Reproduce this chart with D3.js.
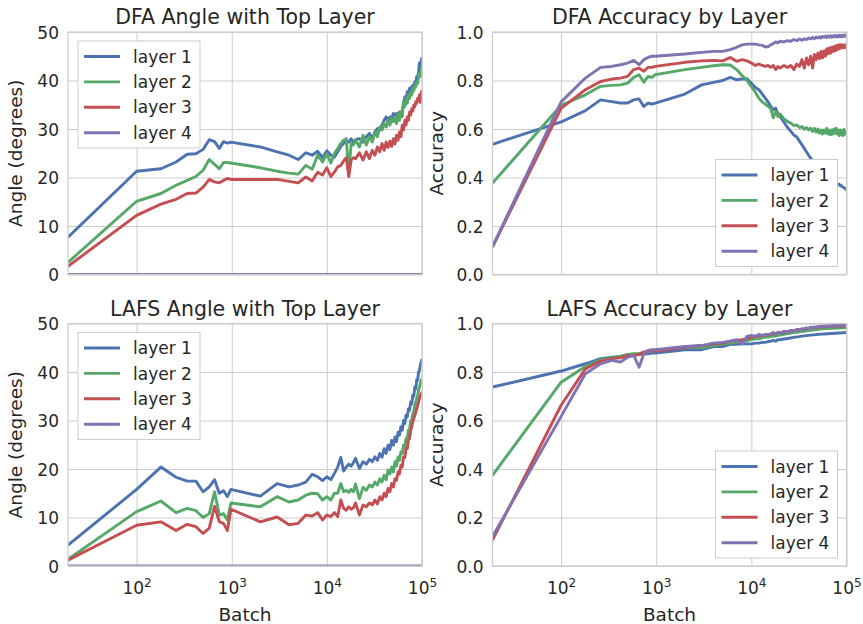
<!DOCTYPE html>
<meta charset="utf-8">
<style>
  body { margin: 0; background: #fff; }
  svg text { font-family: 'DejaVu Sans', sans-serif; fill: #262626; }
</style>
<body>
<div id="vis"></div>
<script src="https://cdn.jsdelivr.net/npm/d3@7"></script>
<script>

const width = 863,
    height = 624;

// logged batches (shared by every run)
const batch = [19, 100, 180, 260, 340, 420, 500, 580, 660, 740, 820, 900, 980,
  2000, 3000, 4000, 5000, 6000, 7000, 8000, 9000, 10000,
  11000, 12000, 13000, 14000, 15000, 16000, 17000, 18000, 19000, 20000,
  22000, 24000, 26000, 28000, 30000, 32000, 34000, 36000, 38000, 40000,
  42000, 44000, 46000, 48000, 50000, 52000, 54000, 56000, 58000, 60000,
  62000, 64000, 66000, 68000, 70000, 72000, 74000, 76000, 78000, 80000,
  82000, 84000, 86000, 88000, 90000, 92000, 94000, 96000, 98000, 100000];

const dfaAngle1 = [7.7, 21.3, 21.8, 23.2, 24.8, 24.9, 25.8, 27.8, 27.4, 26.0, 27.4, 27.1, 27.3,
  26.3, 25.3, 24.6, 23.7, 25.1, 24.6, 25.4, 24.1, 25.5,
  24.6, 24.2, 25.3, 26.4, 27.0, 27.5, 27.3, 28.0, 27.3, 27.8,
  28.0, 27.3, 28.4, 29.1, 28.0, 29.4, 30.1, 29.8, 30.8, 31.8,
  32.5, 31.5, 32.5, 32.2, 33.2, 32.2, 33.2, 32.5, 33.5, 32.9,
  33.9, 35.3, 36.6, 35.9, 37.7, 37.0, 38.4, 37.7, 38.7, 39.0,
  38.7, 39.7, 39.4, 40.8, 40.4, 41.8, 43.6, 42.5, 44.0, 44.8];
const dfaAngle2 = [2.5, 15.1, 16.7, 18.4, 19.4, 20.2, 21.5, 23.7, 22.7, 21.8, 23.1, 23.1, 23.0,
  22.0, 21.3, 20.9, 20.7, 22.5, 21.7, 24.6, 23.2, 24.9,
  23.0, 24.9, 26.0, 27.0, 27.7, 28.0, 20.8, 27.0, 26.7, 27.7,
  26.3, 28.7, 26.7, 28.4, 27.3, 29.4, 28.4, 30.4, 29.8, 31.1,
  30.4, 31.8, 30.8, 32.2, 31.5, 32.5, 31.1, 33.2, 31.8, 33.5,
  32.5, 35.6, 34.6, 36.3, 35.3, 37.0, 36.3, 37.7, 37.0, 38.4,
  37.9, 39.0, 38.7, 39.7, 39.4, 40.8, 41.5, 40.8, 42.0, 43.0];
const dfaAngle3 = [1.7, 12.2, 14.5, 15.5, 16.7, 16.8, 18.0, 19.6, 19.1, 18.9, 19.4, 19.8, 19.6,
  19.6, 19.6, 19.2, 18.9, 20.1, 19.3, 21.1, 20.5, 22.0,
  20.2, 21.1, 22.2, 22.5, 23.4, 24.1, 20.2, 23.6, 24.1, 23.9,
  25.1, 23.6, 25.3, 23.9, 25.6, 24.6, 26.3, 25.3, 27.0, 25.6,
  27.3, 26.2, 27.5, 26.4, 28.0, 26.9, 28.7, 27.7, 29.4, 28.4,
  30.8, 29.8, 31.8, 30.8, 32.5, 31.8, 33.5, 32.9, 34.2, 33.7,
  34.9, 34.6, 35.6, 35.3, 36.3, 35.9, 37.0, 35.5, 37.5, 38.0];
const dfaAngle4 = [0, 0, 0, 0, 0, 0, 0, 0, 0, 0, 0, 0, 0,
  0, 0, 0, 0, 0, 0, 0, 0, 0,
  0, 0, 0, 0, 0, 0, 0, 0, 0, 0,
  0, 0, 0, 0, 0, 0, 0, 0, 0, 0,
  0, 0, 0, 0, 0, 0, 0, 0, 0, 0,
  0, 0, 0, 0, 0, 0, 0, 0, 0, 0,
  0, 0, 0, 0, 0, 0, 0, 0, 0, 0];

const dfaAcc1 = [0.537, 0.629, 0.676, 0.720, 0.713, 0.707, 0.707, 0.720, 0.724, 0.693, 0.707, 0.703, 0.707,
  0.744, 0.782, 0.792, 0.800, 0.813, 0.803, 0.806, 0.807, 0.789,
  0.771, 0.762, 0.744, 0.727, 0.711, 0.693, 0.679, 0.686, 0.661, 0.652,
  0.628, 0.606, 0.590, 0.575, 0.567, 0.550, 0.535, 0.520, 0.505, 0.492,
  0.480, 0.468, 0.458, 0.450, 0.443, 0.435, 0.428, 0.421, 0.415, 0.410,
  0.404, 0.398, 0.393, 0.390, 0.386, 0.383, 0.380, 0.378, 0.376, 0.374,
  0.372, 0.372, 0.366, 0.367, 0.362, 0.360, 0.358, 0.355, 0.352, 0.350];
const dfaAcc2 = [0.377, 0.698, 0.741, 0.776, 0.780, 0.782, 0.789, 0.813, 0.824, 0.793, 0.817, 0.813, 0.824,
  0.845, 0.854, 0.861, 0.865, 0.864, 0.845, 0.820, 0.800, 0.775,
  0.752, 0.727, 0.712, 0.703, 0.693, 0.684, 0.646, 0.672, 0.652, 0.662,
  0.642, 0.631, 0.624, 0.614, 0.617, 0.606, 0.610, 0.599, 0.606, 0.596,
  0.603, 0.590, 0.603, 0.587, 0.600, 0.583, 0.596, 0.579, 0.596, 0.583,
  0.603, 0.579, 0.596, 0.576, 0.596, 0.579, 0.600, 0.583, 0.603, 0.579,
  0.596, 0.573, 0.596, 0.576, 0.592, 0.573, 0.598, 0.578, 0.590, 0.580];
const dfaAcc3 = [0.113, 0.685, 0.762, 0.796, 0.806, 0.810, 0.817, 0.845, 0.851, 0.838, 0.854, 0.854, 0.858,
  0.875, 0.881, 0.883, 0.881, 0.895, 0.879, 0.886, 0.881, 0.872,
  0.862, 0.868, 0.862, 0.858, 0.862, 0.854, 0.862, 0.845, 0.858, 0.851,
  0.862, 0.854, 0.862, 0.845, 0.868, 0.858, 0.886, 0.851, 0.893, 0.865,
  0.900, 0.851, 0.907, 0.886, 0.913, 0.890, 0.920, 0.893, 0.922, 0.900,
  0.931, 0.910, 0.934, 0.913, 0.937, 0.920, 0.940, 0.922, 0.944, 0.927,
  0.947, 0.931, 0.948, 0.934, 0.948, 0.936, 0.945, 0.935, 0.948, 0.940];
const dfaAcc4 = [0.115, 0.712, 0.810, 0.854, 0.858, 0.865, 0.872, 0.883, 0.865, 0.886, 0.895, 0.900, 0.900,
  0.909, 0.916, 0.920, 0.920, 0.927, 0.937, 0.947, 0.950, 0.950,
  0.950, 0.947, 0.945, 0.938, 0.940, 0.947, 0.952, 0.959, 0.955, 0.962,
  0.959, 0.964, 0.962, 0.969, 0.964, 0.971, 0.966, 0.972, 0.969, 0.975,
  0.971, 0.978, 0.972, 0.979, 0.975, 0.980, 0.975, 0.982, 0.978, 0.983,
  0.977, 0.984, 0.979, 0.985, 0.978, 0.984, 0.980, 0.986, 0.979, 0.985,
  0.980, 0.987, 0.981, 0.986, 0.980, 0.987, 0.982, 0.988, 0.983, 0.986];

const lafsAngle1 = [4.3, 15.8, 20.4, 18.3, 17.5, 17.5, 15.3, 16.3, 17.8, 15.0, 15.5, 14.3, 15.8,
  14.4, 17.0, 16.3, 16.7, 17.3, 18.9, 18.4, 17.6, 18.4,
  17.8, 19.1, 20.4, 22.4, 19.6, 20.4, 21.0, 20.6, 21.3, 22.2,
  20.1, 21.5, 21.0, 22.0, 21.5, 22.5, 21.8, 23.2, 22.4, 24.2,
  23.2, 24.9, 24.0, 25.9, 24.9, 26.6, 25.6, 27.6, 27.0, 28.7,
  28.0, 30.0, 29.4, 31.1, 30.7, 32.4, 32.1, 33.8, 33.4, 35.2,
  35.0, 36.9, 36.5, 38.4, 38.3, 40.0, 40.3, 41.4, 42.0, 42.7];
const lafsAngle2 = [1.4, 11.2, 13.4, 11.0, 11.9, 11.4, 10.0, 10.8, 15.3, 10.5, 10.8, 9.5, 13.0,
  12.2, 14.3, 13.2, 13.6, 14.6, 15.0, 14.9, 13.6, 14.3,
  13.6, 15.0, 15.0, 17.0, 15.3, 15.6, 15.2, 15.8, 15.3, 16.9,
  13.9, 16.2, 15.6, 16.7, 16.3, 17.3, 16.7, 18.0, 17.3, 18.7,
  17.8, 19.8, 19.0, 20.4, 19.4, 21.5, 20.6, 22.5, 21.8, 23.5,
  23.2, 24.9, 24.5, 26.3, 26.3, 28.0, 28.1, 30.0, 30.0, 31.4,
  32.0, 33.1, 33.8, 34.5, 35.2, 36.2, 36.9, 37.6, 38.3, 38.6];
const lafsAngle3 = [1.2, 8.4, 9.1, 7.3, 8.6, 8.1, 6.7, 7.8, 12.3, 9.1, 8.8, 7.3, 11.7,
  9.1, 10.1, 8.5, 8.8, 10.5, 10.3, 11.0, 9.5, 10.5,
  10.2, 11.0, 10.2, 13.6, 11.9, 11.5, 12.2, 11.7, 12.0, 13.0,
  10.5, 12.6, 12.2, 13.0, 12.6, 13.6, 12.8, 14.3, 13.6, 15.0,
  14.3, 16.0, 15.3, 17.0, 16.3, 18.0, 17.7, 19.4, 19.0, 20.8,
  20.4, 22.5, 22.4, 24.2, 24.2, 25.9, 26.3, 28.0, 28.7, 29.7,
  30.4, 31.1, 31.7, 32.4, 33.1, 33.8, 34.5, 35.0, 35.5, 35.9];
const lafsAngle4 = [0, 0, 0, 0, 0, 0, 0, 0, 0, 0, 0, 0, 0,
  0, 0, 0, 0, 0, 0, 0, 0, 0,
  0, 0, 0, 0, 0, 0, 0, 0, 0, 0,
  0, 0, 0, 0, 0, 0, 0, 0, 0, 0,
  0, 0, 0, 0, 0, 0, 0, 0, 0, 0,
  0, 0, 0, 0, 0, 0, 0, 0, 0, 0,
  0, 0, 0, 0, 0, 0, 0, 0, 0, 0];

const lafsAcc1 = [0.738, 0.804, 0.834, 0.855, 0.861, 0.864, 0.872, 0.872, 0.872, 0.875, 0.875, 0.878, 0.878,
  0.892, 0.892, 0.905, 0.905, 0.914, 0.914, 0.916, 0.916, 0.916,
  0.919, 0.919, 0.922, 0.922, 0.925, 0.927, 0.930, 0.927, 0.933, 0.933,
  0.936, 0.938, 0.941, 0.943, 0.945, 0.946, 0.948, 0.949, 0.950, 0.951,
  0.952, 0.953, 0.953, 0.954, 0.955, 0.955, 0.956, 0.956, 0.957, 0.957,
  0.958, 0.958, 0.958, 0.959, 0.959, 0.959, 0.960, 0.960, 0.960, 0.960,
  0.961, 0.961, 0.961, 0.961, 0.962, 0.962, 0.962, 0.962, 0.963, 0.963];
const lafsAcc2 = [0.374, 0.758, 0.823, 0.850, 0.859, 0.864, 0.872, 0.875, 0.875, 0.882, 0.886, 0.886, 0.889,
  0.902, 0.900, 0.909, 0.914, 0.919, 0.923, 0.927, 0.930, 0.934,
  0.937, 0.937, 0.941, 0.944, 0.944, 0.946, 0.948, 0.948, 0.951, 0.952,
  0.955, 0.958, 0.960, 0.963, 0.964, 0.966, 0.967, 0.968, 0.970, 0.971,
  0.972, 0.973, 0.974, 0.975, 0.976, 0.977, 0.977, 0.978, 0.978, 0.979,
  0.979, 0.979, 0.980, 0.980, 0.980, 0.980, 0.981, 0.981, 0.981, 0.981,
  0.981, 0.981, 0.982, 0.982, 0.982, 0.982, 0.982, 0.982, 0.982, 0.982];
const lafsAcc3 = [0.107, 0.663, 0.813, 0.845, 0.855, 0.859, 0.868, 0.868, 0.872, 0.882, 0.886, 0.886, 0.886,
  0.902, 0.909, 0.916, 0.919, 0.927, 0.930, 0.933, 0.937, 0.944,
  0.946, 0.948, 0.951, 0.952, 0.955, 0.955, 0.958, 0.958, 0.960, 0.962,
  0.964, 0.967, 0.970, 0.971, 0.974, 0.975, 0.977, 0.978, 0.979, 0.981,
  0.982, 0.983, 0.983, 0.984, 0.984, 0.985, 0.985, 0.986, 0.986, 0.986,
  0.987, 0.987, 0.987, 0.988, 0.988, 0.988, 0.988, 0.988, 0.989, 0.989,
  0.989, 0.989, 0.989, 0.989, 0.990, 0.990, 0.990, 0.990, 0.990, 0.990];
const lafsAcc4 = [0.121, 0.617, 0.793, 0.834, 0.848, 0.841, 0.861, 0.868, 0.820, 0.875, 0.889, 0.892, 0.892,
  0.905, 0.909, 0.919, 0.922, 0.927, 0.933, 0.916, 0.947, 0.951,
  0.947, 0.955, 0.951, 0.955, 0.952, 0.958, 0.963, 0.958, 0.964, 0.960,
  0.968, 0.964, 0.971, 0.968, 0.975, 0.972, 0.979, 0.977, 0.982, 0.979,
  0.985, 0.982, 0.986, 0.984, 0.988, 0.986, 0.989, 0.987, 0.990, 0.988,
  0.990, 0.988, 0.991, 0.989, 0.991, 0.990, 0.992, 0.990, 0.992, 0.991,
  0.992, 0.990, 0.993, 0.991, 0.992, 0.991, 0.993, 0.991, 0.992, 0.992];

const layerNames = ['layer 1', 'layer 2', 'layer 3', 'layer 4'];
const layerColors = ['#4c72b0', '#55a868', '#c44e52', '#8172b2'];
const angleTicks = [0, 10, 20, 30, 40, 50];
const accTicks = [0, 0.2, 0.4, 0.6, 0.8, 1.0];
const batchTicks = [100, 1000, 10000, 100000];

const plotW = 354,
    plotH = 242.5;

const panels = [
  {title: 'DFA Angle with Top Layer', ylabel: 'Angle (degrees)', series: [dfaAngle1, dfaAngle2, dfaAngle3, dfaAngle4],
   yMax: 50, yTicks: angleTicks, fmt: d3.format('d'), left: 68, top: 32, labelX: 16, legend: 'ul', xLabels: false},
  {title: 'DFA Accuracy by Layer', ylabel: 'Accuracy', series: [dfaAcc1, dfaAcc2, dfaAcc3, dfaAcc4],
   yMax: 1, yTicks: accTicks, fmt: d3.format('.1f'), left: 492.5, top: 32, labelX: 437, legend: 'lr', xLabels: false},
  {title: 'LAFS Angle with Top Layer', ylabel: 'Angle (degrees)', series: [lafsAngle1, lafsAngle2, lafsAngle3, lafsAngle4],
   yMax: 50, yTicks: angleTicks, fmt: d3.format('d'), left: 68, top: 323.5, labelX: 16, legend: 'ul', xLabels: true},
  {title: 'LAFS Accuracy by Layer', ylabel: 'Accuracy', series: [lafsAcc1, lafsAcc2, lafsAcc3, lafsAcc4],
   yMax: 1, yTicks: accTicks, fmt: d3.format('.1f'), left: 492.5, top: 323.5, labelX: 437, legend: 'lr', xLabels: true}
];

const svg = d3.select('#vis')
    .append('svg')
    .attr('width', width)
    .attr('height', height);

const x = d3.scaleLog()
    .domain([19, 100000])
    .range([0, plotW]);

const drawPanel = (p, k) => {
  const y = d3.scaleLinear()
      .domain([0, p.yMax])
      .range([plotH, 0]);

  const g = svg.append('g')
      .attr('transform', 'translate(' + [p.left, p.top] + ')');

  svg.append('clipPath')
      .attr('id', 'clip-' + k)
    .append('rect')
      .attr('width', plotW)
      .attr('height', plotH);

  // grid + tick labels
  const yAxis = g.append('g')
      .call(d3.axisLeft(y).tickValues(p.yTicks).tickFormat(p.fmt).tickSize(-plotW).tickPadding(9));
  const xAxis = g.append('g')
      .attr('transform', 'translate(0,' + plotH + ')')
      .call(d3.axisBottom(x).tickValues(batchTicks).tickSize(-plotH).tickFormat(''));
  [yAxis, xAxis].forEach(a => {
    a.select('.domain').remove();
    a.attr('font-family', null).attr('font-size', null);
    a.selectAll('.tick line').style('stroke', '#cccccc').style('stroke-width', 1);
  });
  yAxis.selectAll('.tick text')
      .style('font-size', '17px')
      .attr('dy', '0.36em');

  if (p.xLabels) {
    xAxis.selectAll('.tick text')
        .attr('y', 28)
        .attr('dy', null)
        .style('font-size', '17px')
        .each(function(d) {
          const t = d3.select(this);
          t.append('tspan').text('10');
          t.append('tspan')
              .attr('dy', '-0.55em')
              .style('font-size', '12px')
              .text(String(Math.round(Math.log10(d))));
        });
    g.append('text')
        .attr('x', plotW / 2)
        .attr('y', plotH + 55)
        .style('text-anchor', 'middle')
        .style('font-size', '18.5px')
        .text('Batch');
  }

  // lines
  const line = d3.line()
      .x((d, i) => x(batch[i]))
      .y(d => y(d));
  g.append('g')
      .attr('clip-path', 'url(#clip-' + k + ')')
    .selectAll('.layer-line')
    .data(p.series)
    .enter().append('path')
      .attr('class', 'layer-line')
      .attr('d', d => line(d))
      .style('fill', 'none')
      .style('stroke', (d, i) => layerColors[i])
      .style('stroke-width', 2.9)
      .style('stroke-linejoin', 'round');

  // frame
  g.append('rect')
      .attr('width', plotW)
      .attr('height', plotH)
      .style('fill', 'none')
      .style('stroke', '#cccccc')
      .style('stroke-width', 1.25);

  g.append('text')
      .attr('x', plotW / 2)
      .attr('y', -8)
      .style('text-anchor', 'middle')
      .style('font-size', '20.5px')
      .text(p.title);

  svg.append('text')
      .attr('transform', 'translate(' + [p.labelX, p.top + plotH / 2] + ') rotate(-90)')
      .attr('dy', '0.35em')
      .style('text-anchor', 'middle')
      .style('font-size', '18.5px')
      .text(p.ylabel);

  // legend
  const lw = 122, lh = 107;
  const lx = p.legend == 'ul' ? 10 : plotW - 9 - lw;
  const ly = p.legend == 'ul' ? 9 : plotH - 8 - lh;
  const leg = g.append('g')
      .attr('transform', 'translate(' + [lx, ly] + ')');
  leg.append('rect')
      .attr('width', lw)
      .attr('height', lh)
      .style('fill', '#fff')
      .style('stroke', '#cccccc')
      .style('stroke-width', 1);
  const item = leg.selectAll('.legend-item')
      .data(layerNames)
    .enter().append('g')
      .attr('class', 'legend-item')
      .attr('transform', (d, i) => 'translate(0,' + (15.5 + i * 25.4) + ')');
  item.append('path')
      .attr('d', 'M6,0H42')
      .style('stroke', (d, i) => layerColors[i])
      .style('stroke-width', 2.9);
  item.append('text')
      .attr('x', 55)
      .attr('dy', '0.36em')
      .style('font-size', '17px')
      .text(d => d);
};

panels.forEach(drawPanel);

</script>
</body>
